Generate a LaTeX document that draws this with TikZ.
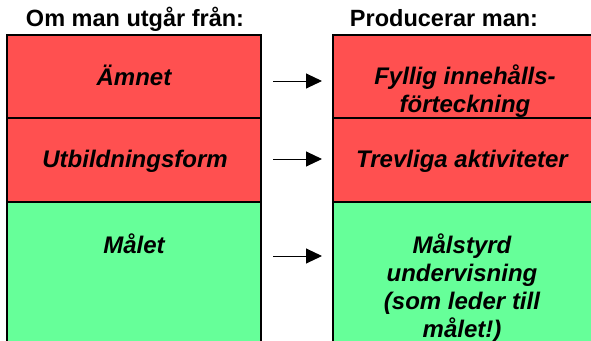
\documentclass[tikz,border=0pt]{standalone}
\usepackage{fontspec}
\setmainfont{Liberation Sans}
\usetikzlibrary{arrows.meta,positioning}

\definecolor{rowred}{RGB}{255,80,80}
\definecolor{rowgreen}{RGB}{102,255,153}

\tikzset{
	cell/.style={draw=black,line width=1.2pt},
	celltext/.style={font=\fontsize{24}{28}\selectfont\bfseries\itshape,align=center,inner sep=0pt},
	headtext/.style={font=\fontsize{23.5}{27}\selectfont\bfseries,inner sep=0pt},
	leads/.style={-{Triangle[length=16pt,width=15pt]},line width=1pt}
}

\begin{document}
\begin{tikzpicture}[x=1pt,y=-1pt]
\useasboundingbox (0,0) rectangle (591,340);

% column headings
\node[headtext,anchor=base] (hleft) at (135,26) {Om man utgår från:};
\node[headtext,anchor=base] (hright) at (444,26) {Producerar man:};

% left column
\filldraw[cell,fill=rowred] (7,35) rectangle (261,118);
\filldraw[cell,fill=rowred] (7,118) rectangle (261,202);
\filldraw[cell,fill=rowgreen] (7,202) rectangle (261,350);

% right column
\filldraw[cell,fill=rowred] (333,35) rectangle (600,118);
\filldraw[cell,fill=rowred] (333,118) rectangle (600,202);
\filldraw[cell,fill=rowgreen] (333,202) rectangle (600,350);

% texts (base = baseline of the last line)
\node[celltext,anchor=base] (subject) at (134,85) {Ämnet};
\node[celltext,anchor=base] (form) at (135,167) {Utbildningsform};
\node[celltext,anchor=base] (goal) at (134,253) {Målet};

\node[celltext,anchor=base] (contents) at (465,112) {Fyllig innehålls-\\förteckning};
\node[celltext,anchor=base] (activities) at (462,167) {Trevliga aktiviteter};
\node[celltext,anchor=base] (teaching) at (462,337) {Målstyrd\\undervisning\\(som leder till\\målet!)};

% arrows left -> right
\foreach \i/\y in {1/81,2/159,3/256} {
	\coordinate (from\i) at (273,\y);
	\coordinate (to\i) at (322,\y);
	\draw[leads] (from\i) -- (to\i);
}
\end{tikzpicture}
\end{document}
